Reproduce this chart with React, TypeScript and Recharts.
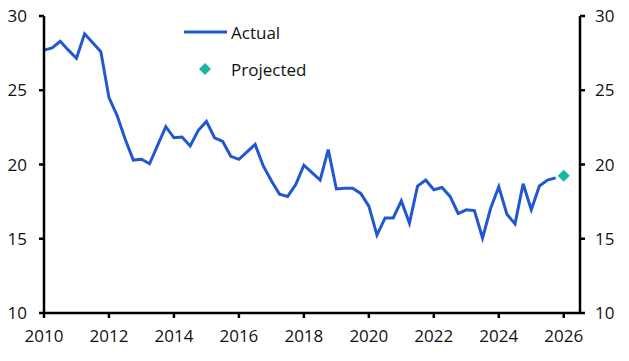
import { LineChart, Line, XAxis, YAxis, Legend } from "recharts";

// quarterly, starting 2010 Q1
const actual = [
  27.7, 27.85, 28.3, 27.7, 27.15, 28.8, 28.2, 27.6,
  24.5, 23.3, 21.7, 20.3, 20.35, 20.05, 21.3, 22.55,
  21.8, 21.85, 21.25, 22.3, 22.9, 21.8, 21.55, 20.55,
  20.35, 20.85, 21.35, 19.9, 18.9, 18.0, 17.85, 18.65,
  19.95, 19.45, 18.95, 21.0, 18.35, 18.4, 18.4, 18.05,
  17.2, 15.25, 16.4, 16.4, 17.55, 16.05, 18.55, 18.95,
  18.3, 18.45, 17.85, 16.7, 16.95, 16.9, 15.05, 17.05,
  18.5, 16.65, 16.0, 18.7, 16.95, 18.55, 18.95, 19.1,
];
const projected = [19.25];
const startYear = 2010;
const xTicks = [2010, 2012, 2014, 2016, 2018, 2020, 2022, 2024, 2026];
const yTicks = [10, 15, 20, 25, 30];

const BLUE = "#2157cf";
const TEAL = "#17b5a2";
const FONT = "'Open Sans', sans-serif";

const data = [
  ...actual.map((v, i) => ({ date: startYear + i / 4, actual: v, projected: null as number | null })),
  ...projected.map((v, i) => ({ date: startYear + (actual.length + i) / 4, actual: null as number | null, projected: v })),
];

const Diamond = (props: any) => {
  const { cx, cy, index } = props;
  if (cx == null || cy == null || props.value == null) return <g key={index} />;
  const r = 6;
  return (
    <polygon
      key={index}
      points={`${cx},${cy - r} ${cx + r},${cy} ${cx},${cy + r} ${cx - r},${cy}`}
      fill={TEAL}
    />
  );
};

const LegendBox = () => (
  <div style={{ fontFamily: FONT, fontSize: 17, color: "#111" }}>
    <div style={{ display: "flex", alignItems: "center", height: 24 }}>
      <svg width={44} height={10}>
        <line x1={0} y1={5} x2={43} y2={5} stroke={BLUE} strokeWidth={3} />
      </svg>
      <span style={{ marginLeft: 3 }}>Actual</span>
    </div>
    <div style={{ display: "flex", alignItems: "center", height: 24, marginTop: 13 }}>
      <svg width={44} height={14}>
        <polygon points="21,1 27,7 21,13 15,7" fill={TEAL} />
      </svg>
      <span style={{ marginLeft: 3 }}>Projected</span>
    </div>
  </div>
);

export default function App() {
  const tickStyle = { fill: "#111", fontSize: 17, fontFamily: FONT };
  return (
    <div style={{ position: "absolute", left: 0, top: 0, width: 629, height: 361, background: "#fff" }}>
      <LineChart width={629} height={361} data={data} margin={{ top: 16, right: 0, left: 0, bottom: 0 }}>
        <XAxis
          dataKey="date"
          type="number"
          domain={[2010, 2026.5]}
          ticks={xTicks}
          height={48}
          stroke="#000"
          strokeWidth={2.5}
          tickSize={5}
          tickMargin={12}
          tick={tickStyle}
          interval={0}
        />
        <YAxis
          yAxisId="left"
          domain={[10, 30]}
          ticks={yTicks}
          width={44}
          stroke="#000"
          strokeWidth={2.5}
          tickSize={5}
          tickMargin={12}
          tick={tickStyle}
          interval={0}
        />
        <YAxis
          yAxisId="right"
          orientation="right"
          domain={[10, 30]}
          ticks={yTicks}
          width={49}
          stroke="#000"
          strokeWidth={2.5}
          tickSize={5}
          tickMargin={10}
          tick={tickStyle}
          interval={0}
        />
        <Legend
          content={() => <LegendBox />}
          layout="vertical"
          verticalAlign="middle"
          align="center"
          wrapperStyle={{ position: "absolute", left: 184, top: 20, width: 200 }}
        />
        <Line
          yAxisId="right"
          dataKey="actual"
          stroke="none"
          dot={false}
          activeDot={false}
          isAnimationActive={false}
          legendType="none"
        />
        <Line
          yAxisId="left"
          dataKey="actual"
          stroke={BLUE}
          strokeWidth={3}
          dot={false}
          activeDot={false}
          type="linear"
          isAnimationActive={false}
        />
        <Line
          yAxisId="left"
          dataKey="projected"
          stroke="none"
          dot={Diamond}
          activeDot={false}
          isAnimationActive={false}
        />
      </LineChart>
    </div>
  );
}
